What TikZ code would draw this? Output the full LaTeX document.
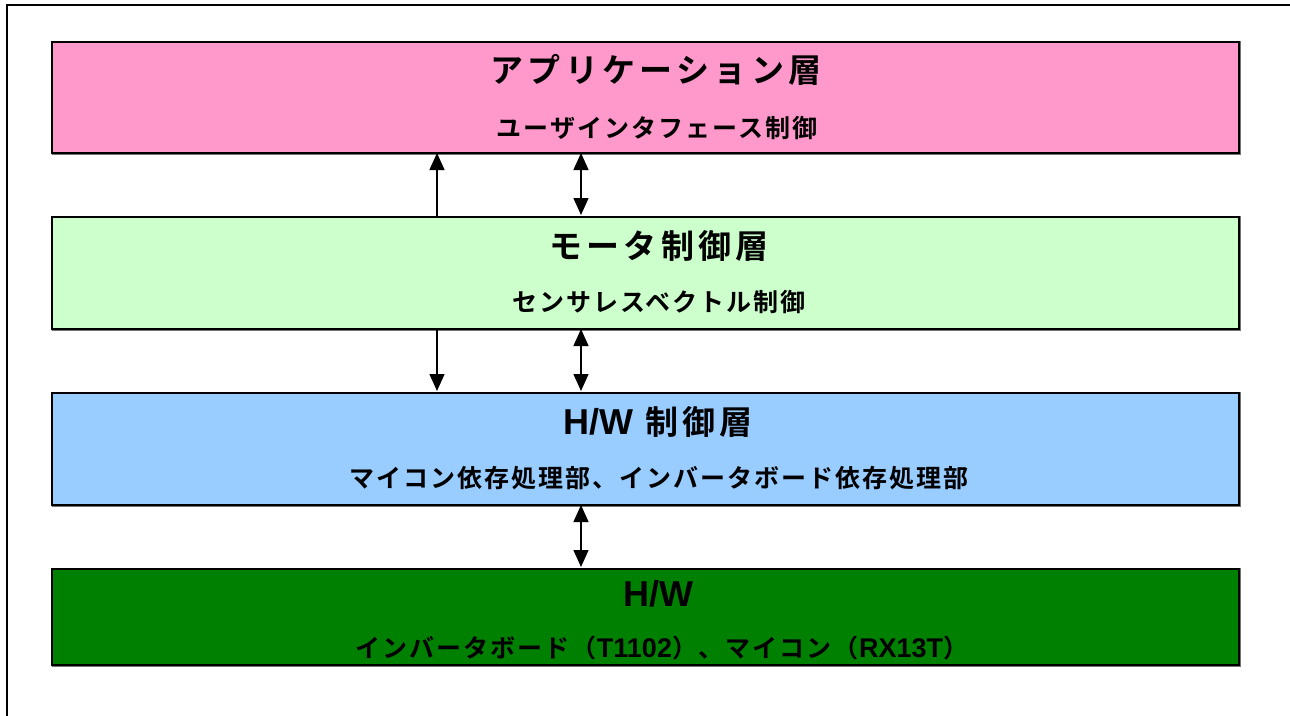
\documentclass[tikz,border=0pt]{standalone}
\usepackage{fontspec}
\setmainfont{Liberation Sans}
\newfontfamily\cjkT{Noto Sans CJK JP}[BoldFont={* Bold},LetterSpace=13.0]
\newfontfamily\cjkS{Noto Sans CJK JP}[BoldFont={* Bold},LetterSpace=8.0]
\newcommand\latT[1]{{\fontsize{36}{36}\selectfont\rmfamily\bfseries #1}}
\newcommand\latS[1]{{\fontsize{27}{28}\selectfont\rmfamily\bfseries #1}}
\usetikzlibrary{arrows.meta}
\definecolor{pinkL}{HTML}{FF99CC}
\definecolor{greenL}{HTML}{CCFFCC}
\definecolor{blueL}{HTML}{99CCFF}
\definecolor{greenD}{HTML}{008000}
\tikzset{
  layer/.style={draw=black,line width=2pt,minimum width=1187pt,anchor=north west,inner sep=0pt},
  shadowline/.style={draw=black!55,line width=1.5pt},
  ttl/.style={font=\fontsize{33}{36}\selectfont\bfseries\cjkT},
  sub/.style={font=\fontsize{25}{28}\selectfont\bfseries\cjkS},
  conn/.style={line width=1.4pt,-{Triangle[length=17pt,width=15pt]}},
  conn2/.style={line width=1.4pt,{Triangle[length=17pt,width=15pt]}-{Triangle[length=17pt,width=15pt]}}
}
\begin{document}
\begin{tikzpicture}[x=1pt,y=-1pt]
\useasboundingbox (0,0) rectangle (1290,715);
\begin{scope}
\clip (0,0) rectangle (1290,715);
\draw[line width=2pt] (7,740) -- (7,5) -- (1310,5);
\end{scope}
% shadows
\foreach \yt/\yb in {41/152,216/328,392/504,568/664}{
  \draw[shadowline] (1240,\yt) -- (1240,\yb+2) -- (52,\yb+2);
}
\node[layer,fill=pinkL,minimum height=111pt] (app) at (51,41) {};
\node[layer,fill=greenL,minimum height=112pt] (mot) at (51,216) {};
\node[layer,fill=blueL,minimum height=112pt] (hwc) at (51,392) {};
\node[layer,fill=greenD,minimum height=96pt] (hw) at (51,568) {};
% texts
\node[ttl] (t1) at (656,70) {アプリケーション層};
\node[sub] (s1) at (657,128) {ユーザインタフェース制御};
\node[ttl] (t2) at (659,246) {モータ制御層};
\node[sub] (s2) at (659,302) {センサレスベクトル制御};
\node[ttl] (t3) at (658,422) {\latT{H/W} 制御層};
\node[sub] (s3) at (659,478) {マイコン依存処理部、インバータボード依存処理部};
\node[inner sep=0pt] (t4) at (658,594) {\latT{H/W}};
\node[sub] (s4) at (662,648) {インバータボード（\latS{T1102}）、マイコン（\latS{RX13T}）};
% connectors
\coordinate (a1) at (437,216); \coordinate (a1e) at (437,153);
\draw[conn] (a1) -- (a1e);
\coordinate (b1) at (581,153); \coordinate (b1e) at (581,215);
\draw[conn2] (b1) -- (b1e);
\coordinate (a2) at (437,329); \coordinate (a2e) at (437,391);
\draw[conn] (a2) -- (a2e);
\coordinate (b2) at (581,329); \coordinate (b2e) at (581,391);
\draw[conn2] (b2) -- (b2e);
\coordinate (b3) at (581,505); \coordinate (b3e) at (581,567);
\draw[conn2] (b3) -- (b3e);
\end{tikzpicture}
\end{document}
